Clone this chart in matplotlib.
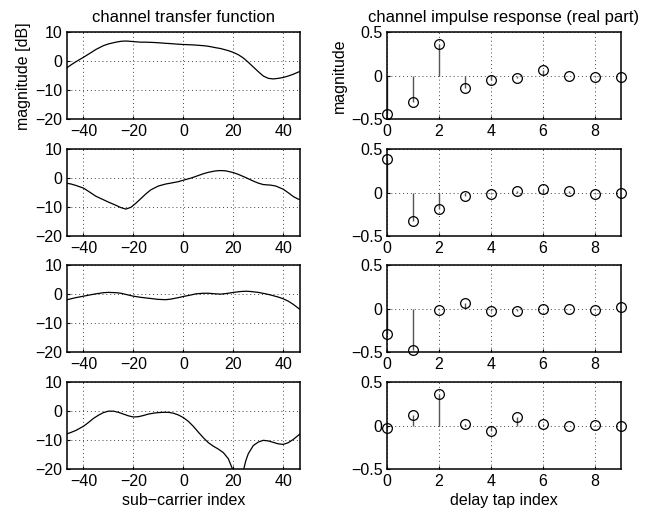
import matplotlib
matplotlib.use('Agg')
import matplotlib.pyplot as plt

plt.rcParams['font.family'] = ['Liberation Sans', 'DejaVu Sans']
plt.rcParams['font.size'] = 11.5

# channel transfer function (dB) vs sub-carrier index, one list per realisation
h_x1 = [-47, -45, -43, -40, -37, -35, -32, -30, -27, -25, -23, -20, -17, -15, -12, -10, -7, -5, -2, 0,
        3, 5, 8, 10, 13, 15, 18, 20, 22, 24, 26, 28, 30, 32, 34, 36, 38, 40, 42, 44, 47]
h_y1 = [-2.5, -1.3, -0.2, 1.3, 2.9, 4.0, 5.3, 5.9, 6.5, 6.8, 6.9, 6.7, 6.5, 6.5, 6.4, 6.3, 6.1, 6.0, 5.8, 5.7,
        5.6, 5.5, 5.3, 5.1, 4.6, 4.3, 3.6, 3.0, 2.2, 1.1, -0.4, -2.0, -3.6, -5.1, -5.9, -6.1, -5.9, -5.6, -5.1, -4.5, -3.4]

h_x2 = [-47, -45, -43, -40, -38, -35, -32, -30, -27, -25, -23, -21, -19, -17, -15, -13, -10, -7, -5, -2, 0,
        3, 5, 8, 10, 13, 15, 17, 20, 22, 25, 28, 30, 32, 35, 37, 40, 42, 44, 46, 47]
h_y2 = [-1.7, -2.0, -2.5, -3.4, -4.5, -6.2, -7.4, -8.2, -9.3, -10.1, -10.6, -10.0, -8.6, -7.0, -5.4, -4.0, -2.7, -2.0, -1.7, -1.2, -0.7,
        0.0, 0.6, 1.5, 2.0, 2.5, 2.6, 2.5, 1.9, 1.3, 0.2, -1.0, -1.7, -2.2, -2.4, -2.7, -3.8, -5.0, -6.3, -7.2, -7.3]

h_x3 = [-47, -45, -43, -40, -37, -35, -32, -30, -27, -25, -22, -20, -17, -15, -12, -10, -7, -5, -2, 0,
        3, 5, 8, 10, 13, 15, 18, 20, 23, 25, 27, 30, 33, 35, 38, 40, 42, 44, 46, 47]
h_y3 = [-2.0, -1.6, -1.2, -0.7, -0.2, 0.1, 0.5, 0.6, 0.5, 0.3, -0.3, -0.7, -1.1, -1.3, -1.6, -1.8, -1.9, -1.7, -1.2, -0.8,
        -0.3, 0.1, 0.3, 0.3, 0.1, 0.0, 0.3, 0.6, 0.9, 1.0, 0.9, 0.6, 0.1, -0.3, -1.0, -1.6, -2.4, -3.5, -4.8, -5.4]

h_x4 = [-47, -45, -43, -40, -38, -36, -34, -32, -30, -28, -26, -24, -22, -20, -18, -16, -14, -12, -10, -8, -6, -4, -2, 0,
        2, 4, 6, 8, 10, 12, 14, 16, 18, 20, 22, 24, 25, 26, 28, 30, 32, 34, 36, 38, 40, 42, 44, 46, 47]
h_y4 = [-7.9, -7.3, -6.6, -5.2, -3.9, -2.5, -1.4, -0.5, 0.0, 0.0, -0.4, -1.0, -1.6, -2.0, -1.9, -1.5, -1.0, -0.7, -0.5, -0.4, -0.4, -0.7, -1.3, -2.2,
        -3.5, -5.2, -7.2, -9.1, -10.8, -12.0, -13.0, -14.2, -16.3, -20.5, -30.0, -20.5, -17.0, -14.6, -11.8, -10.6, -10.0, -10.2, -10.7, -11.2, -11.4, -10.8, -9.7, -8.3, -7.6]

tf_x = [h_x1, h_x2, h_x3, h_x4]
tf_y = [h_y1, h_y2, h_y3, h_y4]

# channel impulse response (real part) per delay tap
taps = [0, 1, 2, 3, 4, 5, 6, 7, 8, 9]
cir1 = [-0.44, -0.30, 0.36, -0.14, -0.05, -0.03, 0.065, 0.0, -0.015, -0.01]
cir2 = [0.38, -0.32, -0.19, -0.04, -0.01, 0.02, 0.04, 0.015, -0.02, 0.0]
cir3 = [-0.29, -0.47, -0.01, 0.065, -0.03, -0.03, 0.0, 0.0, -0.01, 0.015]
cir4 = [-0.03, 0.12, 0.36, 0.025, -0.055, 0.10, 0.025, 0.0, 0.01, -0.005]
cirs = [cir1, cir2, cir3, cir4]

fig = plt.figure(figsize=(6.55, 5.13), dpi=100)

bottoms = [0.7671, 0.5390, 0.3129, 0.0848]
h = 0.1706
grid_style = dict(linestyle=(0, (1, 3)), color='#444444', lw=0.7)

for i in range(4):
    # left: transfer function
    ax = fig.add_axes([0.1018, bottoms[i], 0.3562, h])
    ax.plot(tf_x[i], tf_y[i], color='black', lw=0.9)
    ax.set_xlim(-46.7, 46.7)
    ax.set_ylim(-20, 10)
    ax.set_xticks([-40, -20, 0, 20, 40])
    ax.set_yticks([-20, -10, 0, 10])
    ax.grid(True, **grid_style)
    ax.tick_params(direction='in', length=2)
    ax.tick_params(axis='x', pad=3)
    ax.tick_params(axis='y', pad=3)
    for s in ax.spines.values():
        s.set_linewidth(1.1)
    if i == 0:
        ax.set_title('channel transfer function', fontsize=12, pad=7)
        ax.set_ylabel('magnitude [dB]', labelpad=3)
    if i == 3:
        ax.set_xlabel('sub\u2212carrier index', labelpad=3)

    # right: impulse response stems
    ax2 = fig.add_axes([0.5904, bottoms[i], 0.3577, h])
    ax2.vlines(taps, 0, cirs[i], color='#555555', lw=1.0)
    ax2.plot(taps, cirs[i], 'o', mfc='none', mec='black', ms=7, mew=0.9, clip_on=False)
    ax2.set_xlim(0, 9)
    ax2.set_ylim(-0.5, 0.5)
    ax2.set_xticks([0, 2, 4, 6, 8])
    ax2.set_yticks([-0.5, 0, 0.5])
    ax2.set_yticklabels(['\u22120.5', '0', '0.5'])
    ax2.grid(True, **grid_style)
    ax2.tick_params(direction='in', length=2)
    ax2.tick_params(axis='x', pad=3)
    ax2.tick_params(axis='y', pad=3)
    for s in ax2.spines.values():
        s.set_linewidth(1.1)
    if i == 0:
        ax2.set_title('channel impulse response (real part)', fontsize=12, pad=7)
        ax2.set_ylabel('magnitude', labelpad=3)
    if i == 3:
        ax2.set_xlabel('delay tap index', labelpad=3)

fig.savefig('out.png', dpi=100)
